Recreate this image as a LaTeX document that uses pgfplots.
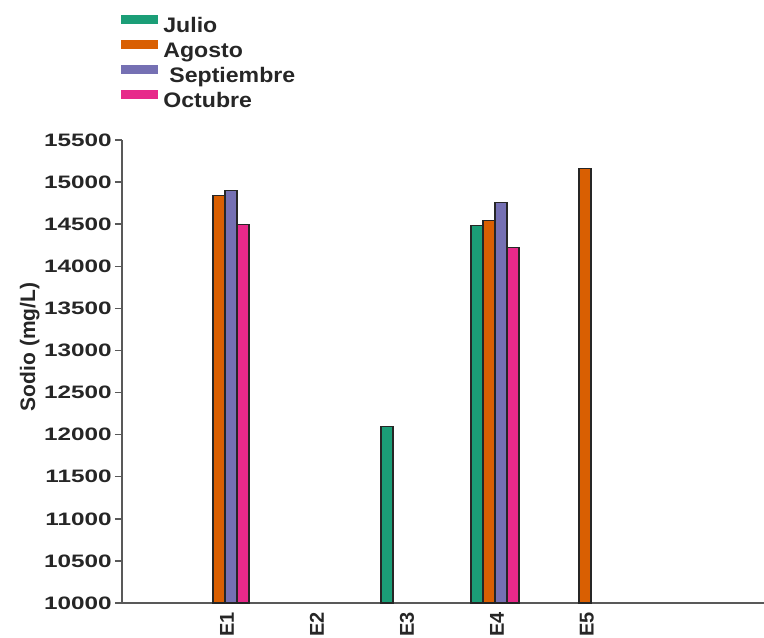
\documentclass[border=0pt]{standalone}
\usepackage{pgfplots}
\pgfplotsset{compat=1.18}
\usepackage{fontspec}
\setmainfont{Liberation Sans}
\usepackage{graphicx}
\definecolor{cJul}{HTML}{1B9E77}
\definecolor{cAgo}{HTML}{D95F02}
\definecolor{cSep}{HTML}{7570B3}
\definecolor{cOct}{HTML}{E7298A}
\newcommand{\legtxt}[1]{\scalebox{1.1}[1]{#1}}
\begin{document}
\begin{tikzpicture}
\useasboundingbox (-61pt,-17pt) rectangle (321pt,301.5pt);
\begin{axis}[
  scale only axis, width=321pt, height=231.5pt,
  at={(0pt,0pt)}, anchor=south west,
  xmin=-0.144, xmax=6.99, ymin=10000, ymax=15500,
  axis lines=left,
  axis line style={-, draw=black!65, line width=0.8pt},
  xtick={1,2,3,4,5}, xticklabels={E1,E2,E3,E4,E5},
  xtick style={draw=none},
  ytick={10000,10500,...,15500},
  scaled y ticks=false,
  ytick style={draw=black!65, line width=0.7pt},
  tick align=outside, major tick length=3.5pt,
  /pgf/number format/assume math mode=true,
  /pgf/number format/set thousands separator={},
  yticklabel={\scalebox{1.35}[1]{\pgfmathprintnumber[fixed,precision=0]{\tick}}},
  yticklabel style={font=\fontsize{9}{10}\selectfont\bfseries, text=black!85, inner sep=1.5pt},
  xticklabel style={rotate=90, anchor=east, font=\fontsize{10}{11}\selectfont\bfseries, text=black!85, inner sep=1pt, yshift=-1pt},
  ylabel={Sodio (mg/L)},
  ylabel style={at={(ticklabel cs:0.553)}, font=\fontsize{10.5}{12}\selectfont\bfseries, text=black!85, inner sep=0.5pt},
  ybar, bar width=6pt,
  every axis plot/.append style={draw=black!85, line width=0.6pt},
  legend style={draw=none, fill=none, at={(0,1)}, anchor=south west,
    yshift=12.75pt, xshift=-0.5pt, inner sep=0pt, row sep=0.5pt, column sep=1.5pt,
    font=\fontsize{10.5}{12}\selectfont\bfseries, text=black!85,
    nodes={inner sep=1pt, text height=7.5pt, text depth=2.5pt}},
  legend cell align=left,
  legend image code/.code={\path[fill, draw=none] (0pt,1.5pt) rectangle (18.5pt,6pt);},
]
\addplot[fill=cJul, bar shift=-9pt] coordinates {(3,12100) (4,14480)};
\addplot[fill=cAgo, bar shift=-3pt] coordinates {(1,14840) (4,14540)};
\addplot[fill=cSep, bar shift=3pt] coordinates {(1,14900) (4,14760)};
\addplot[fill=cOct, bar shift=9pt] coordinates {(1,14500) (4,14220)};
\addplot[fill=cAgo, bar shift=0pt, forget plot] coordinates {(5,15160)};
\legend{\legtxt{Julio},\legtxt{Agosto},\hspace{3pt}\legtxt{Septiembre},\legtxt{Octubre}}
\end{axis}
\end{tikzpicture}
\end{document}
